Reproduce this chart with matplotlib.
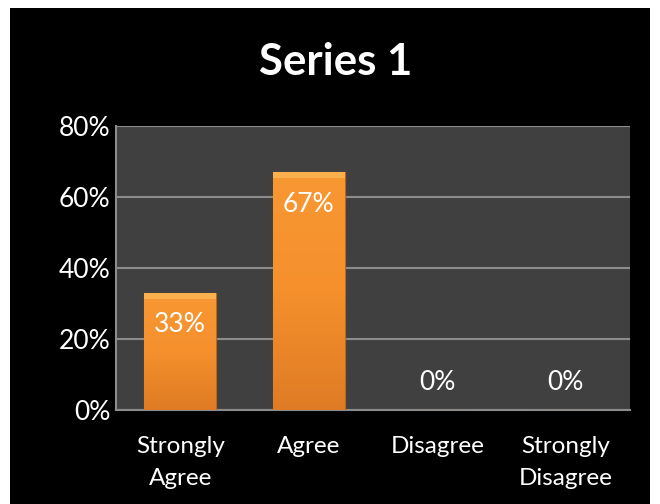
import matplotlib.pyplot as plt
import matplotlib.patches as patches
import matplotlib.ticker as ticker
import numpy as np

plt.rcParams['font.family'] = ['Lato', 'DejaVu Sans']

categories = ["Strongly\nAgree", "Agree", "Disagree", "Strongly\nDisagree"]
values = [0.33, 0.67, 0.0, 0.0]
value_labels = ["33%", "67%", "0%", "0%"]
yticks = [0.0, 0.2, 0.4, 0.6, 0.8]

fig = plt.figure(figsize=(6.6, 5.04), dpi=100)
fig.patch.set_facecolor("white")

# black slide background
fig.patches.append(patches.Rectangle((10 / 660, 0), 640 / 660, 496 / 504,
                                     transform=fig.transFigure, facecolor="black",
                                     edgecolor="none", zorder=-5))

ax = fig.add_axes([116 / 660, 94 / 504, 514 / 660, 284 / 504])
ax.set_zorder(2)
ax.set_facecolor("#404040")

x = np.arange(len(categories))
bars = ax.bar(x, values, width=0.56, color="#F28C28", edgecolor="#C06512",
              linewidth=0.8, zorder=3)

# gradient fill clipped to each bar
grad = np.linspace(0, 1, 256).reshape(-1, 1)
cmap = plt.matplotlib.colors.LinearSegmentedColormap.from_list(
    "orng", ["#DF7B24", "#F5902D", "#F89833"])
for bar in bars:
    h = bar.get_height()
    if h <= 0:
        continue
    x0 = bar.get_x()
    w = bar.get_width()
    im = ax.imshow(grad, extent=[x0, x0 + w, 0, h], origin="lower", aspect="auto",
                   cmap=cmap, zorder=4)
    im.set_clip_path(bar)
    # bevel highlight at top
    ax.add_patch(patches.Rectangle((x0, h - 0.016), w, 0.016, facecolor="#FBB04E",
                                   edgecolor="none", zorder=5))

for xi, v, lab in zip(x, values, value_labels):
    off = -23 if v > 0 else 20
    ax.annotate(lab, (xi, v), xytext=(0, off), textcoords="offset points",
                ha="center", va="center", color="white", fontsize=19, zorder=6)

ax.set_xlim(-0.5, len(categories) - 0.5)
ax.set_ylim(0, 0.8)
ax.set_yticks(yticks)
ax.yaxis.set_major_formatter(ticker.FuncFormatter(lambda y, _: f"{y * 100:.0f}%"))
ax.set_xticks(x)
ax.set_xticklabels(categories, color="white", fontsize=17.5, linespacing=1.62)
ax.tick_params(axis="y", colors="white", labelsize=19, length=0, pad=4)
ax.tick_params(axis="x", colors="white", length=0, pad=19)
ax.grid(True, axis="y", color="#8C8C8C", linewidth=1.5, zorder=1)
ax.set_axisbelow(True)

for side in ["top", "right"]:
    ax.spines[side].set_visible(False)
for side in ["left", "bottom"]:
    ax.spines[side].set_color("#8C8C8C")
    ax.spines[side].set_linewidth(1.5)

fig.text(336 / 660, 1 - 62 / 504, "Series 1", ha="center", va="center",
         color="white", fontsize=31.5, fontweight="bold")

fig.savefig("out.png", dpi=100, facecolor=fig.get_facecolor())
